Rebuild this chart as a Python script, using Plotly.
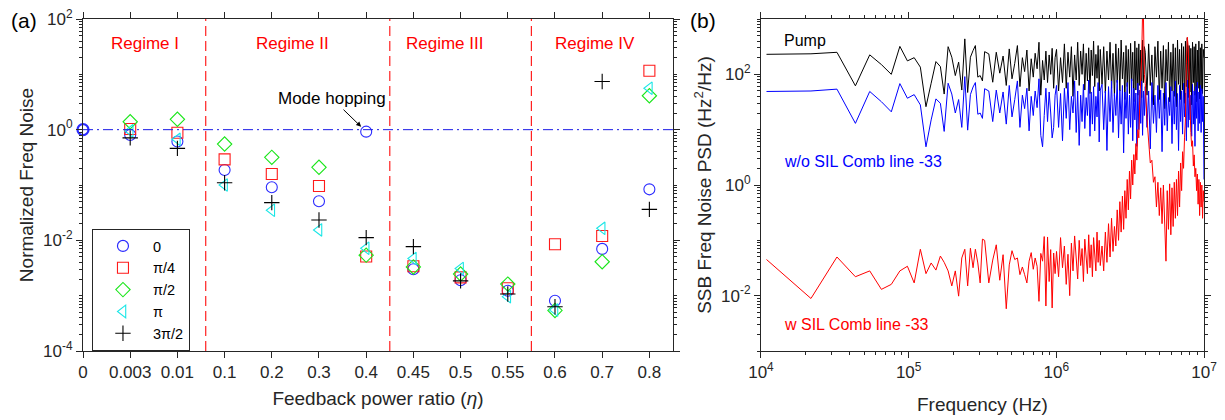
import math
import plotly.graph_objects as go

# ---------------- Panel (a) data ----------------
categories = ["0", "0.003", "0.01", "0.1", "0.2", "0.3", "0.4", "0.45", "0.5", "0.55", "0.6", "0.7", "0.8"]
noise_phase_0 = [1.0, 0.80, 0.61, 0.187, 0.091, 0.051, 0.92, 0.0030, 0.0019, 0.00123, 0.00081, 0.0070, 0.0835]
noise_phase_pi4 = [None, 1.03, 0.88, 0.29, 0.158, 0.096, 0.0051, 0.0034, 0.00214, 0.00136, 0.0085, 0.012, 11.6]
noise_phase_pi2 = [None, 1.39, 1.54, 0.55, 0.316, 0.209, 0.0054, 0.0033, 0.00246, 0.00162, 0.00054, 0.0041, 4.1]
noise_phase_pi = [None, 0.95, 0.67, 0.10, 0.035, 0.0154, 0.0072, 0.0047, 0.0031, 0.00096, 0.00055, 0.0165, 5.6]
noise_phase_3pi2 = [None, 0.71, 0.46, 0.110, 0.048, 0.0233, 0.0112, 0.0077, 0.00185, 0.00107, 0.00063, 7.4, 0.0363]
series_names = ["0", "π/4", "π/2", "π", "3π/2"]
regime_labels = ["Regime I", "Regime II", "Regime III", "Regime IV"]
left_y_tickvals = [1e-4, 1e-2, 1, 1e2]
left_y_ticktext = ["10<sup>-4</sup>", "10<sup>-2</sup>", "10<sup>0</sup>", "10<sup>2</sup>"]

# ---------------- Panel (b) data ----------------
freq_khz = [
    10.9, 21.8, 32.7, 43.6, 54.5, 65.4, 76.3, 87.2, 98.1, 109, 120, 131, 142, 153, 164, 174, 185, 196, 207, 218,
    229, 240, 251, 262, 273, 283, 294, 305, 316, 327,
    349, 371, 392, 414, 436, 458, 480, 501, 523, 545, 567, 589, 610, 632, 654, 676, 698, 719, 741, 763,
    785, 807, 828, 850, 872, 894, 916, 937, 959, 981,
    1003, 1036, 1068, 1101, 1134, 1167, 1199, 1232, 1265, 1297, 1330, 1363, 1395, 1428, 1461, 1494, 1526, 1559,
    1592, 1624, 1657, 1690, 1722, 1755, 1788, 1820, 1853, 1886, 1919, 1951, 1984,
    2039, 2093, 2148, 2202, 2257, 2311, 2366, 2420, 2475, 2529, 2584, 2638, 2693, 2747, 2802, 2856, 2911, 2965,
    3020, 3074, 3129, 3183, 3238, 3292, 3347, 3401, 3456, 3510, 3565, 3619, 3674, 3728, 3783, 3837, 3892, 3946,
    4001, 4110, 4219, 4328, 4437, 4546, 4655, 4764, 4873, 4982, 5091, 5200, 5309, 5418, 5527, 5636, 5745, 5854,
    5963, 6072, 6181, 6290, 6399, 6508, 6617, 6726, 6835, 6944, 7053, 7162, 7271, 7380, 7489, 7598, 7707, 7816,
    7925, 8034, 8143, 8252, 8361, 8470, 8579, 8688, 8797, 8906, 9015, 9124, 9233, 9342, 9451, 9560, 9669, 9778,
    9887, 9996,
]
psd_pump = [
    230, 235, 250, 62, 225, 150, 100, 320, 175, 200, 135, 26, 69, 170, 138, 44, 316, 204, 95, 166,
    52, 437, 47, 204, 269, 331, 89, 95, 76, 257,
    234, 72, 251, 105, 214, 63, 288, 83, 158, 331, 60, 200, 112, 275, 50, 191, 89, 240, 126, 380,
    42, 178, 79, 263, 71, 224, 100, 295, 56, 200,
    282, 50, 200, 71, 355, 56, 251, 89, 316, 40, 224, 79, 380, 63, 263, 100, 355, 52,
    240, 76, 302, 45, 275, 95, 398, 60, 229, 85, 331, 50, 282,
    66, 316, 46, 263, 79, 380, 56, 240, 40, 355, 71, 295, 50, 417, 83, 251, 35, 331,
    60, 282, 45, 363, 76, 251, 32, 398, 52, 302, 42, 355, 63, 275, 38, 417, 71, 316,
    251, 42, 355, 63, 224, 28, 316, 89, 398, 35, 263, 56, 331, 24, 282, 76, 380, 32,
    251, 50, 355, 40, 302, 26, 417, 66, 282, 35, 363, 52, 316, 30, 398, 60, 457, 38,
    331, 48, 295, 28, 380, 71, 316, 42, 355, 32, 275, 56, 398, 36, 302, 50, 355, 45,
    282, 200,
]
psd_wo_sil = [
    49, 50, 54, 13, 49, 32, 21, 68, 37, 43, 28, 4.9, 15, 36, 30, 9.3, 69, 44, 20, 35,
    11, 91, 9.8, 43, 59, 71, 19, 20, 16, 55,
    50, 14, 52, 20, 48, 12.6, 63, 17, 35, 76, 11, 42, 24, 56, 9.5, 40, 18, 50, 25, 83,
    7.9, 4.9, 18, 56, 14, 48, 20, 7.1, 11, 42,
    63, 11, 45, 6.3, 56, 16, 71, 10, 40, 20, 76, 8.9, 50, 5.2, 42, 14, 66, 10.5,
    38, 18, 79, 7.6, 48, 12.6, 60, 9.5, 40, 17, 71, 6.0, 52,
    66, 10, 50, 4.2, 60, 14, 76, 8.9, 45, 18, 79, 7.1, 52, 12.6, 63, 3.8, 48, 16,
    71, 8.3, 42, 11, 83, 6.3, 56, 15, 46, 5.0, 69, 10, 52, 13, 76, 7.9, 50, 18,
    60, 11, 50, 4.5, 71, 13, 42, 8.9, 63, 16, 52, 4.0, 46, 12, 71, 9.5, 38, 18,
    60, 5.6, 50, 12.6, 76, 10, 45, 4.2, 63, 14, 50, 8.3, 69, 17, 46, 6.3, 79, 11,
    56, 15, 42, 7.6, 66, 12.6, 50, 5.0, 60, 16, 72, 9.5, 48, 13, 63, 8.9, 55, 14,
    40, 1.26,
]
psd_w_sil = [
    0.045, 0.0089, 0.050, 0.022, 0.028, 0.013, 0.016, 0.028, 0.034, 0.017, 0.069, 0.025, 0.039, 0.029, 0.052,
    0.040, 0.028, 0.015, 0.028, 0.0098, 0.048, 0.069, 0.015, 0.072, 0.032, 0.069, 0.039, 0.017, 0.105, 0.10,
    0.017, 0.044, 0.083, 0.019, 0.055, 0.0058, 0.036, 0.065, 0.045, 0.048, 0.024, 0.033, 0.024, 0.017, 0.042,
    0.060, 0.030, 0.048, 0.034, 0.0079, 0.058, 0.042, 0.117, 0.0065, 0.115, 0.018, 0.068, 0.0060, 0.059, 0.025,
    0.063, 0.022, 0.112, 0.032, 0.079, 0.016, 0.056, 0.010, 0.089, 0.028, 0.120, 0.040, 0.020, 0.10, 0.035,
    0.071, 0.018, 0.105, 0.045, 0.025, 0.126, 0.032, 0.083, 0.022, 0.112, 0.050, 0.028, 0.141, 0.040, 0.10, 0.035,
    0.079, 0.028, 0.141, 0.040, 0.20, 0.050, 0.25, 0.063, 0.178, 0.079, 0.355, 0.10, 0.50, 0.141, 0.63, 0.158,
    0.79, 0.25, 1.26, 0.355, 1.78, 0.56, 2.82, 1.0, 3.55, 1.58, 5.6, 2.82, 10, 7.1, 32, 63, 200, 1300, 1000, 100,
    69, 15.8, 5.6, 2.5, 2.8, 1.12, 1.41, 0.40, 1.12, 0.28, 0.89, 0.20, 1.0, 0.141, 0.042, 0.79, 0.158, 1.05,
    0.126, 0.89, 0.178, 1.12, 0.25, 1.26, 0.28, 1.78, 0.40, 2.5, 0.79, 4.0, 2.0, 7.1, 15.8, 158, 468, 316,
    63, 28, 8.9, 5.0, 6.3, 2.2, 3.5, 1.41, 2.0, 0.79, 1.58, 0.45, 1.26, 0.28, 1.12, 0.40, 1.0, 0.25,
    0.79, 0.50,
]
right_x_tickvals = [1e4, 1e5, 1e6, 1e7]
right_x_ticktext = ["10<sup>4</sup>", "10<sup>5</sup>", "10<sup>6</sup>", "10<sup>7</sup>"]
right_y_tickvals = [1e-2, 1, 1e2]
right_y_ticktext = ["10<sup>-2</sup>", "10<sup>0</sup>", "10<sup>2</sup>"]

freq_hz = [f * 1000 for f in freq_khz]

FONT = "Liberation Sans"
AX = "#262626"

fig = go.Figure()

# ---- panel (a) scatter ----
styles = [
    (noise_phase_0, "circle-open", "#2B2BFF", 11),
    (noise_phase_pi4, "square-open", "#FF1A1A", 11),
    (noise_phase_pi2, "diamond-open", "#1AE61A", 11),
    (noise_phase_pi, "triangle-left-open", "#1AE6E6", 11),
    (noise_phase_3pi2, "cross-thin-open", "#000000", 11),
]
for i, (vals, sym, col, sz) in enumerate(styles):
    lw = 1.1
    if i == 0:
        lw = [2.2] + [1.1] * (len(vals) - 1)
    fig.add_trace(go.Scatter(
        x=categories, y=vals, mode="markers", name=series_names[i],
        marker=dict(symbol=sym, size=sz, color=col, line=dict(color=col, width=lw)),
        cliponaxis=False, xaxis="x", yaxis="y",
    ))

# ---- panel (b) lines ----
fig.add_trace(go.Scatter(x=freq_hz, y=psd_pump, mode="lines", line=dict(color="#000000", width=1),
                         showlegend=False, xaxis="x2", yaxis="y2"))
fig.add_trace(go.Scatter(x=freq_hz, y=psd_wo_sil, mode="lines", line=dict(color="#0000FF", width=1),
                         showlegend=False, xaxis="x2", yaxis="y2"))
fig.add_trace(go.Scatter(x=freq_hz, y=psd_w_sil, mode="lines", line=dict(color="#FF0000", width=1),
                         showlegend=False, xaxis="x2", yaxis="y2"))

# ---- reference lines panel (a) ----
for xb in [2.6, 6.5, 9.5]:
    fig.add_shape(type="line", xref="x", x0=xb, x1=xb, yref="y domain", y0=0, y1=1,
                  line=dict(color="#FF2020", width=1.2, dash="10px,5px"))
fig.add_shape(type="line", xref="x domain", x0=0, x1=1, yref="y", y0=1, y1=1,
              line=dict(color="#1A1AE6", width=1, dash="10px,4px,2px,4px"))

annotations = []
for lab, xc in zip(regime_labels, [1.31, 4.44, 7.66, 10.84]):
    annotations.append(dict(text=lab, x=xc, y=1.566, xref="x", yref="y", showarrow=False,
                            xanchor="center", yanchor="middle",
                            font=dict(color="#FF0000", size=17, family=FONT)))
annotations.append(dict(text="Mode hopping", x=6, y=math.log10(noise_phase_0[6]), xref="x", yref="y",
                        ax=-34, ay=-33, showarrow=True, arrowhead=2, arrowsize=1, arrowwidth=1,
                        arrowcolor="#000000", standoff=7,
                        font=dict(color="#000000", size=17, family=FONT)))
annotations.append(dict(text="(a)", x=-0.0526, y=0.994, xref="paper", yref="paper", showarrow=False,
                        xanchor="center", yanchor="middle",
                        font=dict(color="#000000", size=21, family=FONT)))
annotations.append(dict(text="(b)", x=0.553, y=0.994, xref="paper", yref="paper", showarrow=False,
                        xanchor="center", yanchor="middle",
                        font=dict(color="#000000", size=21, family=FONT)))
annotations.append(dict(text="Pump", x=4.142, y=2.61, xref="x2", yref="y2", showarrow=False,
                        xanchor="left", yanchor="middle", font=dict(color="#000000", size=16, family=FONT)))
annotations.append(dict(text="w/o SIL Comb line -33", x=4.142, y=0.43, xref="x2", yref="y2",
                        showarrow=False, xanchor="left", yanchor="middle",
                        font=dict(color="#0000FF", size=16, family=FONT)))
annotations.append(dict(text="w SIL Comb line -33", x=4.142, y=-2.52, xref="x2", yref="y2",
                        showarrow=False, xanchor="left", yanchor="middle",
                        font=dict(color="#FF0000", size=16, family=FONT)))

axis_common = dict(showline=True, linecolor=AX, linewidth=1, mirror="ticks", ticks="outside",
                   tickcolor=AX, ticklen=6, showgrid=False, zeroline=False, automargin=False,
                   ticklabeloverflow="allow",
                   tickfont=dict(size=17, color=AX, family=FONT))
minor_common = dict(ticks="outside", ticklen=3, tickcolor=AX, showgrid=False)
title_font = dict(size=19, color=AX, family=FONT)

# The page body adds an 8 px margin, so the figure is 8 px smaller and margins shifted.
fig.update_layout(
    width=1217, height=412,
    margin=dict(l=75, r=21, t=11, b=69),
    paper_bgcolor="white", plot_bgcolor="white",
    font=dict(family=FONT, color=AX),
    annotations=annotations,
    xaxis=dict(domain=[0, 0.5263], type="category", range=[0, 12.5], anchor="y",
               title=dict(text="Feedback power ratio (<i>η</i>)", font=title_font, standoff=10),
               **axis_common),
    yaxis=dict(domain=[0, 1], type="log", range=[-4, 2], tickvals=left_y_tickvals,
               ticktext=left_y_ticktext, anchor="x", minor=dict(dtick="D1", **minor_common),
               title=dict(text="Normalized Freq Noise", font=title_font, standoff=4),
               **axis_common),
    xaxis2=dict(domain=[0.6048, 1], type="log", range=[4, 7], tickvals=right_x_tickvals,
                ticktext=right_x_ticktext, anchor="y2", minor=dict(dtick="D1", **minor_common),
                title=dict(text="Frequency (Hz)", font=title_font, standoff=16),
                **axis_common),
    yaxis2=dict(domain=[0, 1], type="log", range=[-3, 3], tickvals=right_y_tickvals,
                ticktext=right_y_ticktext, anchor="x2", minor=dict(dtick="D1", **minor_common),
                title=dict(text="SSB Freq Noise PSD (Hz<sup>2</sup>/Hz)", font=title_font, standoff=4),
                **axis_common),
    legend=dict(x=0.008, y=0.3675, xanchor="left", yanchor="top", bgcolor="white",
                bordercolor=AX, borderwidth=1, itemwidth=50, entrywidth=48,
                font=dict(size=14.5, color="#000000", family=FONT)),
)

fig.write_html("out.html")
